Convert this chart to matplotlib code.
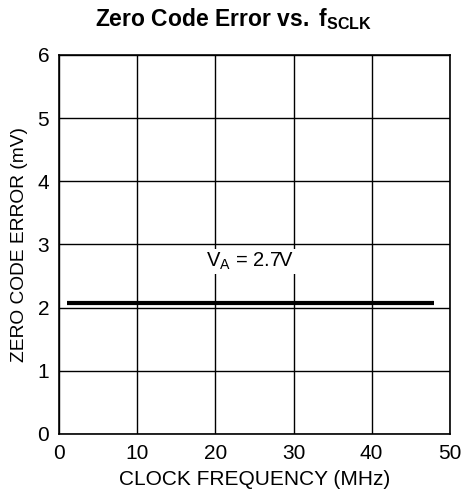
import numpy as np
import matplotlib.pyplot as plt

plt.rcParams['font.family'] = ['Liberation Sans', 'DejaVu Sans']
plt.rcParams['mathtext.fontset'] = 'custom'
plt.rcParams['mathtext.rm'] = 'Liberation Sans'
plt.rcParams['mathtext.it'] = 'Liberation Sans:italic'
plt.rcParams['mathtext.bf'] = 'Liberation Sans:bold'

freq_mhz = [1, 10, 20, 30, 40, 48]
zero_code_err = [2.08, 2.08, 2.08, 2.08, 2.08, 2.08]

fig = plt.figure(figsize=(4.62, 5.04), dpi=100)
ax = fig.add_axes([0.1277, 0.139, 0.846, 0.752])

ax.plot(freq_mhz, zero_code_err, color='black', linewidth=3, solid_capstyle='butt', zorder=3)

ax.set_xlim(0, 50)
ax.set_ylim(0, 6)
ax.set_xticks(np.arange(0, 51, 10))
ax.set_yticks(np.arange(0, 7, 1))
ax.grid(True, color='black', linewidth=1)
ax.tick_params(length=0, labelsize=15)
ax.tick_params(axis='x', pad=7)
ax.tick_params(axis='y', pad=7)
for s in ax.spines.values():
    s.set_linewidth(1.2)

ax.text(24.4, 2.73, '$\\mathregular{V_A}$ = 2.7V', fontsize=14.5, ha='center', va='center',
        bbox=dict(facecolor='white', edgecolor='none', pad=1.5), zorder=4)

ax.set_xlabel('CLOCK FREQUENCY (MHz)', fontsize=15, labelpad=5)
ax.set_ylabel('ZERO CODE ERROR (mV)', fontsize=13.8, labelpad=7)
fig.text(0.505, 0.963, '$\\mathbf{Zero\\ Code\\ Error\\ vs.\\ f_{SCLK}}$', ha='center', va='center',
         fontsize=16.5)

fig.savefig('out.png', dpi=100)
